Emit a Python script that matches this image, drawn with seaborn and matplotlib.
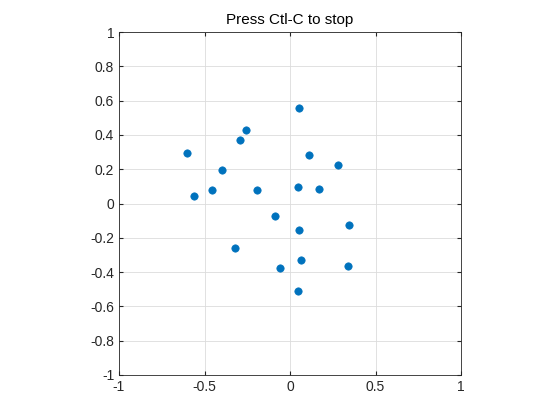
import matplotlib
matplotlib.use("Agg")
import matplotlib.pyplot as plt
import seaborn as sns
import pandas as pd

x = [0.052, -0.26, -0.29, -0.605, -0.395, 0.110, 0.279, -0.459, -0.564, -0.192,
     0.047, 0.169, -0.087, 0.343, 0.052, -0.320, 0.064, -0.058, 0.337, 0.047]
y = [0.554, 0.426, 0.373, 0.292, 0.198, 0.280, 0.227, 0.076, 0.041, 0.076,
     0.099, 0.087, -0.070, -0.128, -0.152, -0.257, -0.327, -0.379, -0.367, -0.513]
df = pd.DataFrame({"x": x, "y": y})

sns.set_style("white")
plt.rcParams['font.family'] = ['Liberation Sans', 'DejaVu Sans']

fig = plt.figure(figsize=(5.6, 4.2), dpi=100)
ax = fig.add_axes([119 / 560, 45 / 420, 342 / 560, 343 / 420])
sns.scatterplot(data=df, x="x", y="y", ax=ax, color="#0072BD", s=28,
                edgecolor="#0072BD", linewidth=0.5, zorder=3)

ax.set_xlim(-1, 1)
ax.set_ylim(-1, 1)
ax.set_xticks([-1, -0.5, 0, 0.5, 1])
ax.set_xticklabels(["-1", "-0.5", "0", "0.5", "1"])
yt = [-1, -0.8, -0.6, -0.4, -0.2, 0, 0.2, 0.4, 0.6, 0.8, 1]
ax.set_yticks(yt)
ax.set_yticklabels(["-1", "-0.8", "-0.6", "-0.4", "-0.2", "0", "0.2", "0.4", "0.6", "0.8", "1"])
ax.grid(True, color="#dcdcdc", linewidth=0.6)
ax.set_axisbelow(True)
ax.set_xlabel("")
ax.set_ylabel("")
for s in ax.spines.values():
    s.set_color("#262626")
    s.set_linewidth(0.6)
ax.tick_params(direction="in", length=3, labelsize=10, colors="#262626",
               top=True, right=True, bottom=True, left=True)
ax.set_title("Press Ctl-C to stop", fontsize=11, color="#000000")

fig.savefig("out.png", dpi=100)
